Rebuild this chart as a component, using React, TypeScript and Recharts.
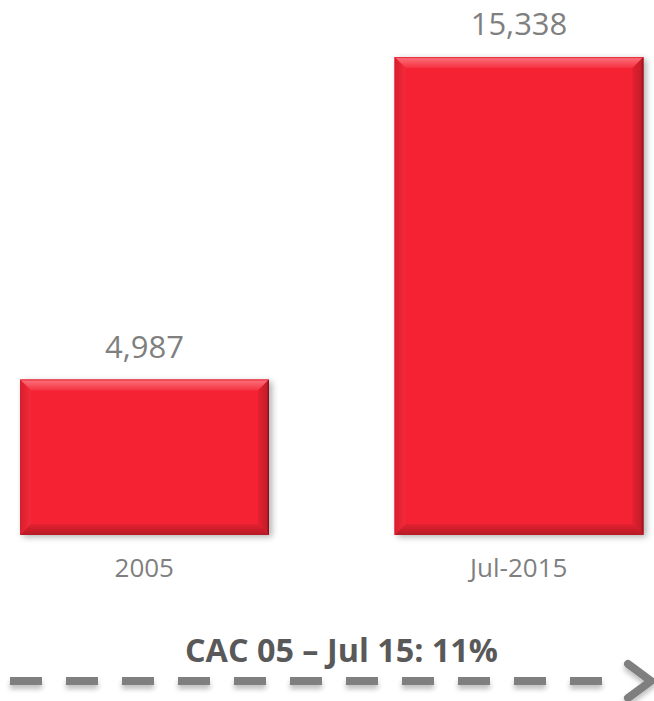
import { Bar, BarChart, LabelList, XAxis, YAxis } from "recharts";

const categories = ["2005", "Jul-2015"];
const values = [4987, 15338];
const caption = "CAC 05 – Jul 15: 11%";

const data = categories.map((name, i) => ({ name, value: values[i] }));

const RED = "#f42233";
const GREY = "#7f7f7f";

function BevelBar(props: any) {
  const { x, y, width: w, height: h, index } = props;
  if (!h || h <= 0) return null;
  const b = 11;
  const id = `bev${index}`;
  return (
    <g>
      <defs>
        <linearGradient id={`${id}t`} x1="0" y1="0" x2="0" y2="1">
          <stop offset="0%" stopColor="#e31c2c" />
          <stop offset="15%" stopColor="#fb6a76" />
          <stop offset="100%" stopColor="#f5303f" />
        </linearGradient>
        <linearGradient id={`${id}b`} x1="0" y1="0" x2="0" y2="1">
          <stop offset="0%" stopColor="#e4202f" />
          <stop offset="100%" stopColor="#b51a26" />
        </linearGradient>
        <linearGradient id={`${id}r`} x1="0" y1="0" x2="1" y2="0">
          <stop offset="0%" stopColor="#e4202f" />
          <stop offset="80%" stopColor="#c51d2a" />
          <stop offset="100%" stopColor="#7a0e16" />
        </linearGradient>
        <linearGradient id={`${id}l`} x1="0" y1="0" x2="1" y2="0">
          <stop offset="0%" stopColor="#d81e2d" />
          <stop offset="100%" stopColor="#f42a3a" />
        </linearGradient>
        <filter id={`${id}s`} x="-10%" y="-10%" width="125%" height="125%">
          <feDropShadow dx="3" dy="2" stdDeviation="3" floodColor="#000" floodOpacity="0.3" />
        </filter>
      </defs>
      <rect x={x} y={y} width={w} height={h} fill={RED} filter={`url(#${id}s)`} />
      <polygon
        points={`${x},${y} ${x + w},${y} ${x + w - b},${y + b} ${x + b},${y + b}`}
        fill={`url(#${id}t)`}
      />
      <polygon
        points={`${x},${y + h} ${x + w},${y + h} ${x + w - b},${y + h - b} ${x + b},${y + h - b}`}
        fill={`url(#${id}b)`}
      />
      <polygon
        points={`${x + w},${y} ${x + w},${y + h} ${x + w - b},${y + h - b} ${x + w - b},${y + b}`}
        fill={`url(#${id}r)`}
      />
      <polygon
        points={`${x},${y} ${x},${y + h} ${x + b},${y + h - b} ${x + b},${y + b}`}
        fill={`url(#${id}l)`}
      />
    </g>
  );
}

export default function App() {
  const dashY = 681;
  return (
    <div
      style={{
        position: "absolute",
        left: 0,
        top: 0,
        width: 654,
        height: 701,
        fontFamily: "'Open Sans', sans-serif",
        background: "#fff",
      }}
    >
      <BarChart
        width={654}
        height={701}
        data={data}
        margin={{ top: 57, right: 0, left: 0, bottom: 136 }}
      >
        <XAxis
          dataKey="name"
          height={30}
          padding={{ left: -43, right: -52 }}
          axisLine={false}
          tickLine={false}
          tickSize={0}
          tickMargin={23.5}
          tick={{ fill: GREY, fontSize: 26, fontFamily: "'Open Sans', sans-serif" }}
        />
        <YAxis hide domain={[0, 15338]} />
        <Bar dataKey="value" barSize={249} shape={BevelBar} isAnimationActive={false}>
          <LabelList
            dataKey="value"
            position="top"
            offset={22}
            formatter={(v: any) => Number(v).toLocaleString("en-US")}
            style={{ fill: GREY, fontSize: 31, fontFamily: "'Open Sans', sans-serif" }}
          />
        </Bar>
      </BarChart>
      <svg
        width={654}
        height={701}
        style={{ position: "absolute", left: 0, top: 0, pointerEvents: "none" }}
      >
        <defs>
          <filter id="arrowShadow" x="-5%" y="-50%" width="110%" height="250%">
            <feDropShadow dx="0" dy="4" stdDeviation="2.5" floodColor="#000" floodOpacity="0.25" />
          </filter>
        </defs>
        <text
          x={341.5}
          y={662}
          textAnchor="middle"
          textLength={313}
          lengthAdjust="spacingAndGlyphs"
          fill="#595959"
          fontSize={32}
          fontWeight="bold"
          fontFamily="'Open Sans', sans-serif"
        >
          {caption}
        </text>
        <g filter="url(#arrowShadow)">
          <line
            x1={10}
            y1={dashY}
            x2={602}
            y2={dashY}
            stroke={GREY}
            strokeWidth={8}
            strokeDasharray="32 24"
          />
          <polyline
            points={`628,664 651,${dashY} 628,698`}
            fill="none"
            stroke={GREY}
            strokeWidth={8}
            strokeLinecap="round"
            strokeLinejoin="miter"
          />
        </g>
      </svg>
    </div>
  );
}
